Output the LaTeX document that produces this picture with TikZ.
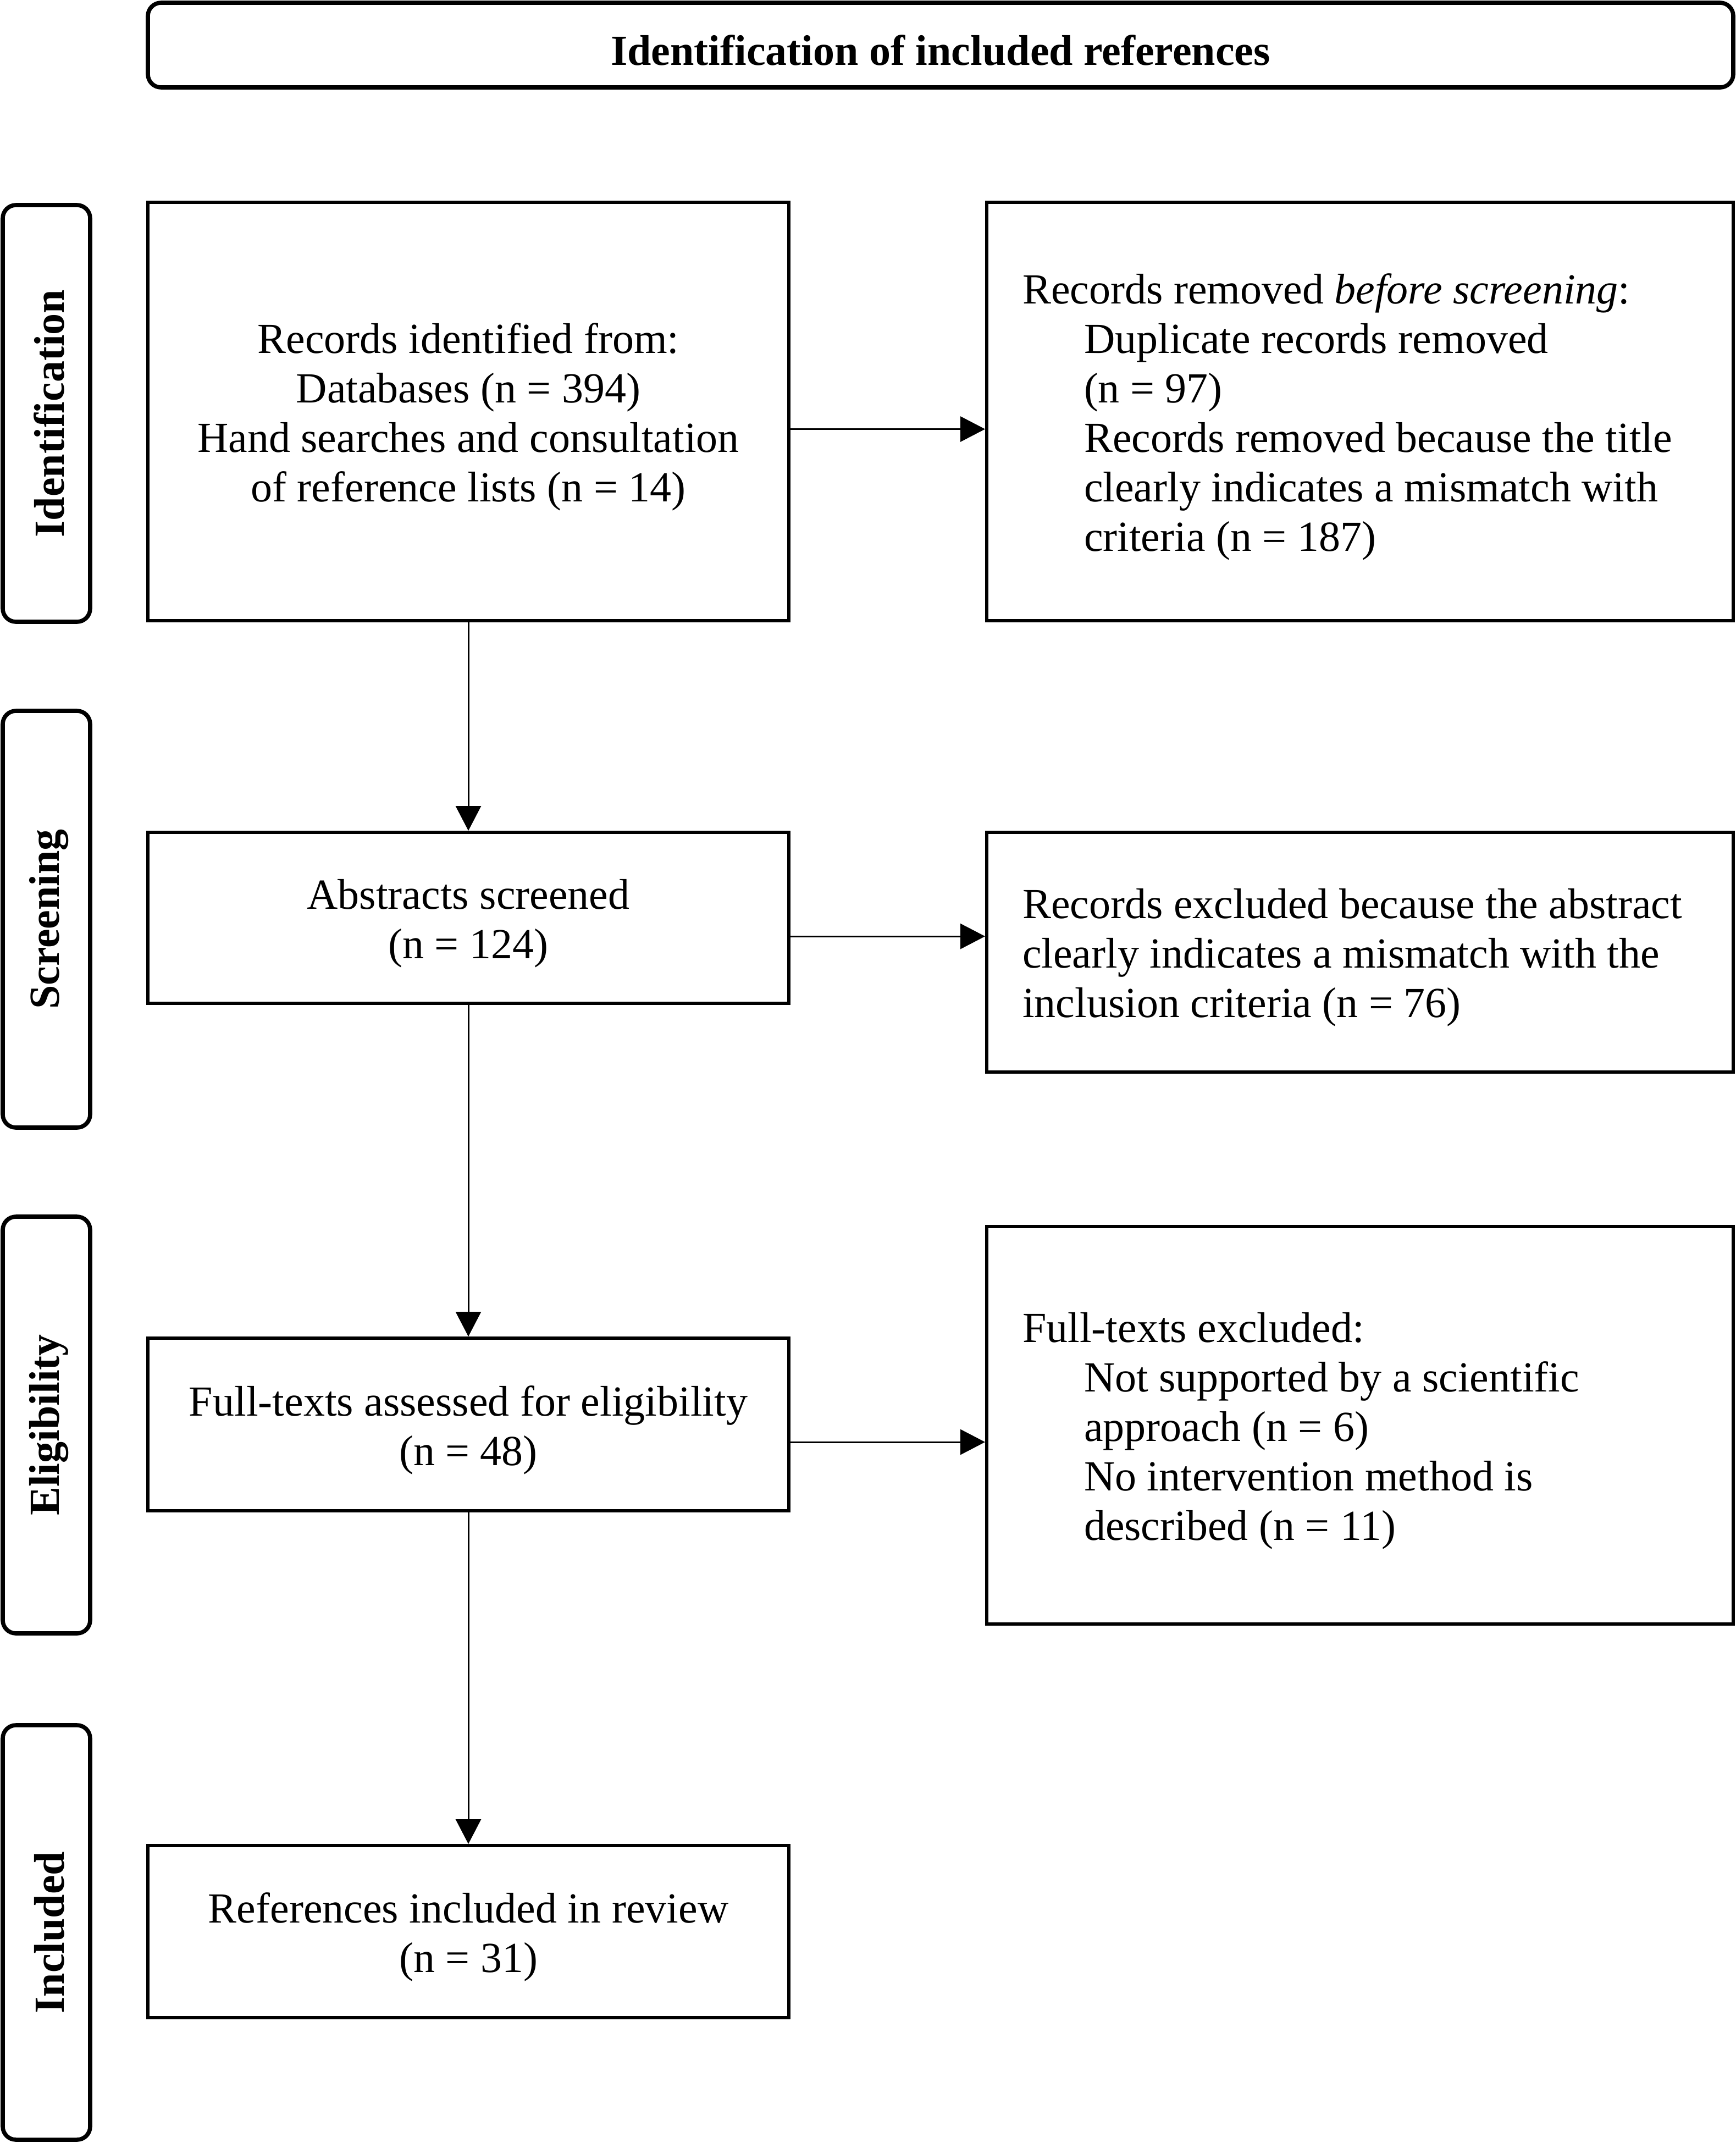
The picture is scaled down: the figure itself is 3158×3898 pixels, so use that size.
\documentclass[tikz,border=0pt]{standalone}
\usepackage{fontspec}
\setmainfont{Liberation Serif}
\usetikzlibrary{arrows.meta}
\begin{document}
\begin{tikzpicture}[x=0.25pt,y=-0.25pt,
  txt/.style={font=\fontsize{19.5pt}{22.5pt}\selectfont, inner sep=0pt},
  btxt/.style={font=\fontsize{19.5pt}{22.5pt}\selectfont\bfseries, inner sep=0pt},
  box/.style={draw, line width=1.5pt, inner sep=0pt},
  rnd/.style={draw, line width=1.9pt, rounded corners=6pt, inner sep=0pt},
  side/.style={rnd, minimum width=39.75pt, minimum height=189.5pt},
  ctext/.style={txt, align=center},
  ltext/.style={txt, align=flush left, text width=307pt},
  arr/.style={line width=0.75pt, -{Triangle[length=11.25pt,width=11.5pt]}}
]
\useasboundingbox (0,0) rectangle (3158,3898);

% header
\node[rnd, minimum width=721pt, minimum height=38.5pt] (top) at (1711,82) {};
\node[btxt] (topt) at ([yshift=-2.5pt]top.center) {Identification of included references};

% side labels
\node[side] (sid) at (84.5,752) {};
\node[btxt, rotate=90] (sidt) at ([xshift=1.25pt]sid.center) {Identification};
\node[side] (sscr) at (84.5,1672) {};
\node[btxt, rotate=90] (sscrt) at ([xshift=1.25pt]sscr.center) {Screening};
\node[side] (selg) at (84.5,2592) {};
\node[btxt, rotate=90] (selgt) at ([xshift=1.25pt]selg.center) {Eligibility};
\node[side, minimum height=188.5pt] (sinc) at (84.5,3515) {};
\node[btxt, rotate=90] (sinct) at ([xshift=1.25pt]sinc.center) {Included};

% main column boxes
\node[box, minimum width=291.5pt, minimum height=190.25pt] (b1) at (852,748.5) {};
\node[box, minimum width=291.5pt, minimum height=77.75pt] (b2) at (852,1669.5) {};
\node[box, minimum width=291.5pt, minimum height=78.5pt] (b3) at (852,2591) {};
\node[box, minimum width=291.5pt, minimum height=78.25pt] (b4) at (852,3513.5) {};
\node[ctext] (b1t) at ([yshift=-2.5pt]b1.center)
  {Records identified from:\\Databases (n = 394)\\Hand searches and consultation\\of reference lists (n = 14)};
\node[ctext] (b2t) at ([yshift=-2.5pt]b2.center) {Abstracts screened\\(n = 124)};
\node[ctext] (b3t) at ([yshift=-2.5pt]b3.center) {Full-texts assessed for eligibility\\(n = 48)};
\node[ctext] (b4t) at ([yshift=-2.5pt]b4.center) {References included in review\\(n = 31)};

% right column boxes
\node[box, minimum width=339.5pt, minimum height=190.25pt] (r1) at (2474,748.5) {};
\node[box, minimum width=339.5pt, minimum height=109pt] (r2) at (2474,1732) {};
\node[box, minimum width=339.5pt, minimum height=180.75pt] (r3) at (2474,2592.5) {};
\node[ltext] (r1t) at ([yshift=-2.5pt]r1.center)
  {Records removed \textit{before screening}:\\
   \hspace*{28pt}Duplicate records removed\\
   \hspace*{28pt}(n = 97)\\
   \hspace*{28pt}Records removed because the title\\
   \hspace*{28pt}clearly indicates a mismatch with\\
   \hspace*{28pt}criteria (n = 187)};
\node[ltext] (r2t) at ([yshift=-2.5pt]r2.center)
  {Records excluded because the abstract\\
   clearly indicates a mismatch with the\\
   inclusion criteria (n = 76)};
\node[ltext] (r3t) at ([yshift=-2.5pt]r3.center)
  {Full-texts excluded:\\
   \hspace*{28pt}Not supported by a scientific\\
   \hspace*{28pt}approach (n = 6)\\
   \hspace*{28pt}No intervention method is\\
   \hspace*{28pt}described (n = 11)};

% connectors
\draw[arr] (b1.south) -- (b2.north);
\draw[arr] (b2.south) -- (b3.north);
\draw[arr] (b3.south) -- (b4.north);
\coordinate (h1) at ([yshift=-8pt]b1.east);
\coordinate (h2) at ([yshift=-8.4pt]b2.east);
\coordinate (h3) at ([yshift=-8pt]b3.east);
\draw[arr] (h1) -- (h1 -| r1.west);
\draw[arr] (h2) -- (h2 -| r2.west);
\draw[arr] (h3) -- (h3 -| r3.west);
\end{tikzpicture}
\end{document}
